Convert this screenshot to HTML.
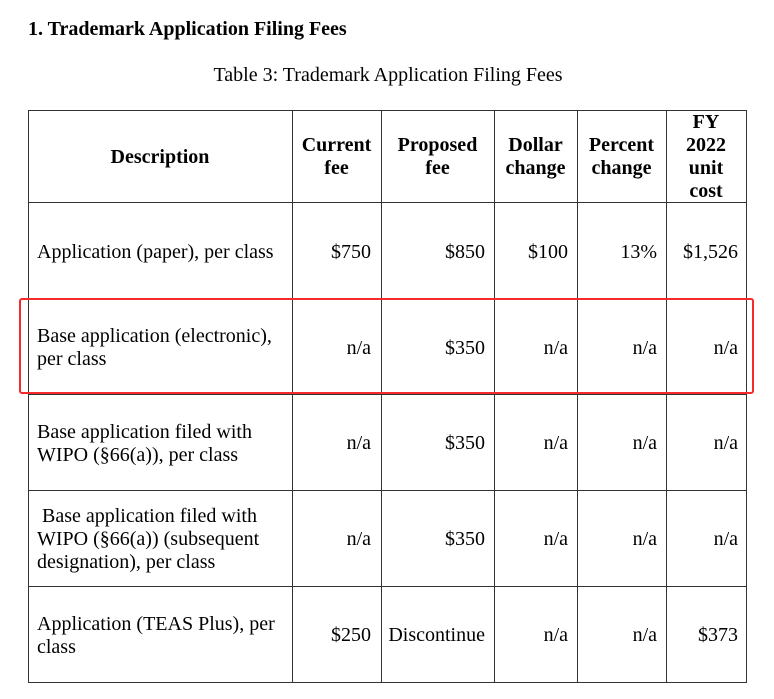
<!DOCTYPE html>
<html><head><style>
body{margin:0;width:774px;height:699px;background:#fff;position:relative;font-family:"Liberation Serif",serif;color:#000;overflow:hidden}
.a{position:absolute;font-size:20px;line-height:23px;white-space:nowrap}
.h{position:absolute;border-top:1.5px solid #333;left:28px;width:719px}
.v{position:absolute;border-left:1.5px solid #333;top:110px;height:573px}
.b{font-weight:bold;text-align:center}
.r{text-align:right}
</style></head><body>
<div class="a" style="left:28px;top:18px;font-weight:bold">1. Trademark Application Filing Fees</div>
<div class="a" style="left:0;width:776px;top:64px;text-align:center">Table 3: Trademark Application Filing Fees</div>

<div class="h" style="top:110px"></div>
<div class="h" style="top:202px"></div>
<div class="h" style="top:298px"></div>
<div class="h" style="top:394px"></div>
<div class="h" style="top:490px"></div>
<div class="h" style="top:586px"></div>
<div class="h" style="top:682px"></div>
<div class="v" style="left:28px"></div>
<div class="v" style="left:292px"></div>
<div class="v" style="left:381px"></div>
<div class="v" style="left:494px"></div>
<div class="v" style="left:577px"></div>
<div class="v" style="left:666px"></div>
<div class="v" style="left:746px"></div>

<div class="a b" style="left:28px;width:264px;top:146px">Description</div>
<div class="a b" style="left:292px;width:89px;top:134px">Current<br>fee</div>
<div class="a b" style="left:381px;width:113px;top:134px">Proposed<br>fee</div>
<div class="a b" style="left:494px;width:83px;top:134px">Dollar<br>change</div>
<div class="a b" style="left:577px;width:89px;top:134px">Percent<br>change</div>
<div class="a b" style="left:666px;width:80px;top:111px">FY<br>2022<br>unit<br>cost</div>

<div class="a" style="left:37px;top:241px">Application (paper), per class</div>
<div class="a r" style="left:292px;width:79px;top:241px">$750</div>
<div class="a r" style="left:381px;width:104px;top:241px">$850</div>
<div class="a r" style="left:494px;width:74px;top:241px">$100</div>
<div class="a r" style="left:577px;width:80px;top:241px">13%</div>
<div class="a r" style="left:666px;width:72px;top:241px">$1,526</div>

<div class="a" style="left:37px;top:325px">Base application (electronic),<br>per class</div>
<div class="a r" style="left:292px;width:79px;top:337px">n/a</div>
<div class="a r" style="left:381px;width:104px;top:337px">$350</div>
<div class="a r" style="left:494px;width:74px;top:337px">n/a</div>
<div class="a r" style="left:577px;width:80px;top:337px">n/a</div>
<div class="a r" style="left:666px;width:72px;top:337px">n/a</div>

<div class="a" style="left:37px;top:421px">Base application filed with<br>WIPO (§66(a)), per class</div>
<div class="a r" style="left:292px;width:79px;top:432px">n/a</div>
<div class="a r" style="left:381px;width:104px;top:432px">$350</div>
<div class="a r" style="left:494px;width:74px;top:432px">n/a</div>
<div class="a r" style="left:577px;width:80px;top:432px">n/a</div>
<div class="a r" style="left:666px;width:72px;top:432px">n/a</div>

<div class="a" style="left:37px;top:505px">&nbsp;Base application filed with<br>WIPO (§66(a)) (subsequent<br>designation), per class</div>
<div class="a r" style="left:292px;width:79px;top:528px">n/a</div>
<div class="a r" style="left:381px;width:104px;top:528px">$350</div>
<div class="a r" style="left:494px;width:74px;top:528px">n/a</div>
<div class="a r" style="left:577px;width:80px;top:528px">n/a</div>
<div class="a r" style="left:666px;width:72px;top:528px">n/a</div>

<div class="a" style="left:37px;top:613px">Application (TEAS Plus), per<br>class</div>
<div class="a r" style="left:292px;width:79px;top:624px">$250</div>
<div class="a r" style="left:381px;width:104px;top:624px">Discontinue</div>
<div class="a r" style="left:494px;width:74px;top:624px">n/a</div>
<div class="a r" style="left:577px;width:80px;top:624px">n/a</div>
<div class="a r" style="left:666px;width:72px;top:624px">$373</div>

<div style="position:absolute;left:19px;top:298px;width:731px;height:92px;border:2.5px solid #f52a2a;border-radius:3px"></div>
</body></html>
